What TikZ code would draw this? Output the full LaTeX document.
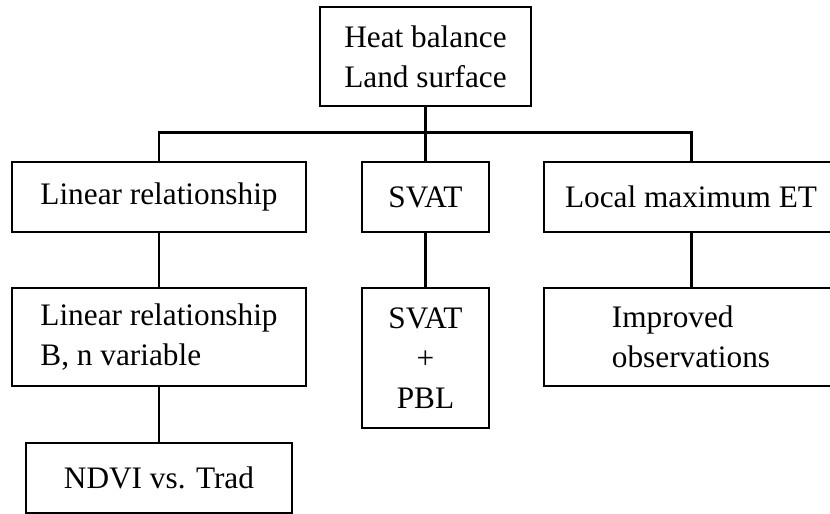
\documentclass[tikz,border=0pt]{standalone}
\usepackage{fontspec}
\setmainfont{Liberation Serif}
\usepackage{tikz}

\begin{document}
\begin{tikzpicture}[
            box/.style={draw, rectangle, line width=0.9pt, minimum width=5.88cm, minimum height=1.4cm, inner sep=0pt, align=center, font=\fontsize{17.8}{22.6}\selectfont},
            link/.style={line width=1.7pt}
            ]
            \useasboundingbox (0,0) rectangle (16.6,10.28);
            \clip (0,0) rectangle (16.6,10.28);

            % Nodes with manual coordinates
            \node[box, minimum width=4.22cm, minimum height=1.98cm] (heat) at (8.51,9.15) {Heat balance\\Land surface};
            \node[box] (lin) at (3.18,6.34) {Linear relationship};
            \node[box, minimum width=2.54cm] (svat) at (8.51,6.34) {SVAT};
            \node[box] (locmax) at (13.82,6.34) {Local maximum ET};
            \node[box, minimum height=1.96cm, align=left] (linvar) at (3.18,3.54) {Linear relationship\\B, n variable};
            \node[box, minimum width=2.54cm, minimum height=2.8cm] (svatpbl) at (8.51,3.12) {SVAT\\+\\PBL};
            \node[box, minimum height=1.96cm, align=left] (improved) at (13.82,3.54) {Improved\\observations};
            \node[box, minimum width=5.32cm] (ndvi) at (3.18,0.72) {NDVI vs. Trad};
            \coordinate (bus) at (8.51,7.62);

            % Lines
            \draw[link] (heat.south) -- (svat.north);
            \draw[link] (lin.north) |- (bus) -| (locmax.north);
            \draw[link] (lin.south) -- (linvar.north);
            \draw[link] (svat.south) -- (svatpbl.north);
            \draw[link] (locmax.south) -- (improved.north);
            \draw[link] (linvar.south) -- (ndvi.north);
        \end{tikzpicture}
\end{document}
